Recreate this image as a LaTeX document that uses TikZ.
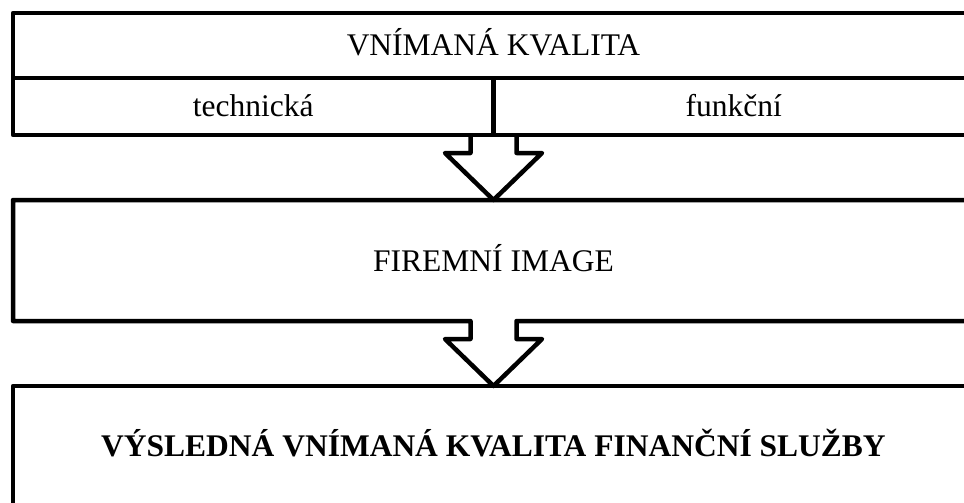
\documentclass[tikz,border=0pt]{standalone}
\usepackage{fontspec}
\setmainfont{Liberation Serif}
\usetikzlibrary{calc}
\begin{document}
\begin{tikzpicture}[x=1pt,y=-1pt,
  frame/.style={line width=4.5pt, line join=round},
  box/.style={inner sep=0pt, outer sep=0pt, font=\fontsize{31.5}{36}\selectfont, text height=21pt, text depth=0pt},
  framedbox/.style={box, draw, frame}]
\useasboundingbox (0,0) rectangle (964,503);
\clip (0,0) rectangle (964,503);
% top block
\node[framedbox, minimum width=961pt, minimum height=65pt] (vk) at (493.5,45.5) {VNÍMANÁ KVALITA};
\node[framedbox, minimum width=480.5pt, minimum height=57pt] (tech) at (253.25,106.5) {technická};
\node[framedbox, minimum width=480.5pt, minimum height=57pt] (func) at (733.75,106.5) {funkční};
% middle block
\node[box, minimum width=961pt, minimum height=121pt] (img) at (493.5,260.5) {FIREMNÍ IMAGE};
% bottom block
\node[framedbox, minimum width=961pt, minimum height=120pt] (res) at (493.5,446) {\textbf{VÝSLEDNÁ VNÍMANÁ KVALITA FINANČNÍ SLUŽBY}};
% arrow 1
\draw[frame] ($(img.north)+(-23,-65)$) -- ++(0,18) -- ++(-25.5,0) -- (img.north) -- ++(48.5,-47) -- ++(-25.5,0) -- ++(0,-18);
% middle frame with arrow 2
\draw[frame] ($(res.north)+(-23,-65)$) -- (img.south west) -- (img.north west) -- (img.north east) -- (img.south east)
  -- ($(res.north)+(23,-65)$) -- ++(0,18) -- ++(25.5,0) -- (res.north) -- ++(-48.5,-47) -- ++(25.5,0) -- cycle;
\end{tikzpicture}
\end{document}
